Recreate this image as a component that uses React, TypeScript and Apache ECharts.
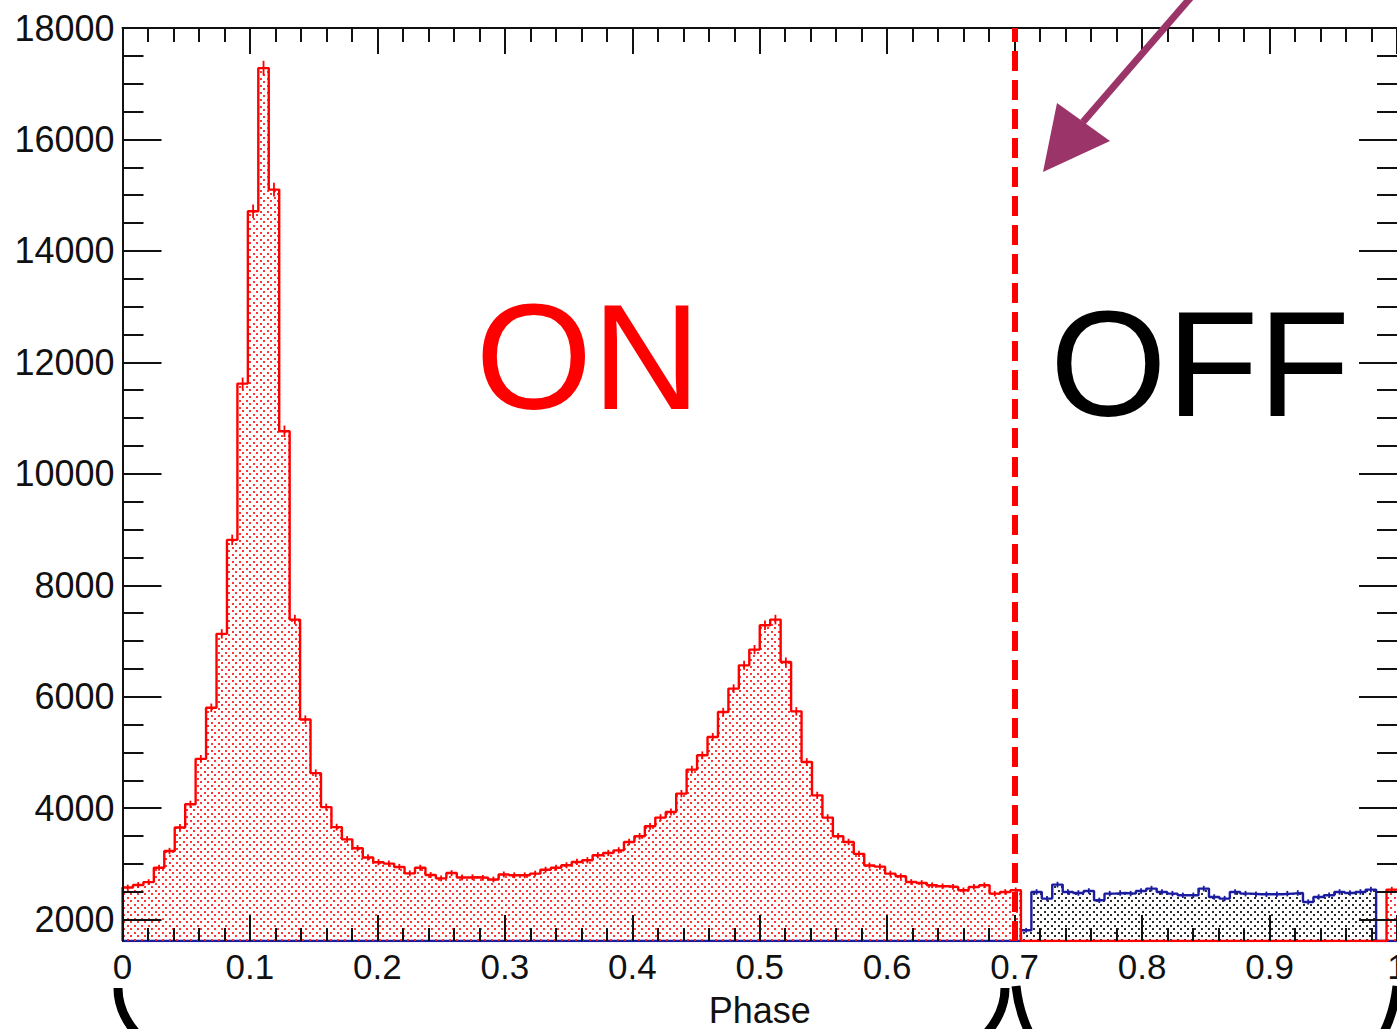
import React, { useEffect, useRef } from 'react';
import * as echarts from 'echarts';

// Pulse-phase histogram: one rotation split into equal phase bins.
const BIN_COUNT = 122;
const OFF_FIRST_BIN = 86;   // first bin of the off-pulse window
const WRAP_FIRST_BIN = 120; // bins after the off-pulse window
const ON_OFF_BOUNDARY = 0.705;
const Y_MIN = 1616;
const Y_MAX = 18000;

// Counts per bin, on-pulse window (bins 0..85)
const onPulseCounts = [
  2577, 2622, 2673, 2930, 3231, 3654, 4070, 4884, 5801, 7128,
  8814, 11619, 14711, 17280, 15100, 10763, 7384, 5590, 4628, 4019,
  3660, 3440, 3280, 3115, 3030, 3005, 2945, 2830, 2930, 2800,
  2740, 2835, 2755, 2760, 2750, 2720, 2810, 2795, 2795, 2825,
  2895, 2930, 2975, 3035, 3065, 3155, 3195, 3243, 3393, 3495,
  3675, 3830, 3931, 4261, 4692, 4948, 5277, 5725, 6145, 6563,
  6845, 7281, 7384, 6623, 5737, 4828, 4230, 3830, 3495, 3393,
  3180, 2970, 2950, 2825, 2777, 2675, 2657, 2616, 2598, 2586,
  2526, 2586, 2616, 2466, 2496, 2526,
];

// Counts per bin, off-pulse window (bins 86..119)
const offPulseCounts = [
  1808, 2496, 2377, 2628, 2496, 2478, 2513, 2346, 2466, 2478,
  2466, 2513, 2556, 2496, 2466, 2436, 2436, 2556, 2406, 2377,
  2496, 2466, 2454, 2454, 2454, 2466, 2478, 2316, 2406, 2436,
  2496, 2478, 2496, 2538,
];

// On-pulse counts wrapping round to phase 1 (bins 120..121)
const wrapOnCounts = [0, 2538];

// Labelled count ticks
const Y_TICK_FIRST = 2000;
const Y_TICK_STEP = 2000;
const Y_MINOR_SPLIT = 4;

const RED = '#ff0000';
const BLUE = '#1c1ca0';
const INK = '#111111';
const ARROW = '#9b3468';
const FONT = '"Liberation Sans", Arial, Helvetica, sans-serif';

const WIDTH = 1397;
const HEIGHT = 1029;
const PLOT = { left: 122.5, right: 0, top: 28, bottom: 88 };

function fullBins(): { on: number[]; off: number[] } {
  const on = new Array(BIN_COUNT).fill(0);
  const off = new Array(BIN_COUNT).fill(0);
  onPulseCounts.forEach((c, i) => (on[i] = c));
  wrapOnCounts.forEach((c, i) => (on[WRAP_FIRST_BIN + i] = c));
  offPulseCounts.forEach((c, i) => (off[OFF_FIRST_BIN + i] = c));
  return { on, off };
}

// Step outline points at the left edge of each bin; empty bins sit on the frame.
function stepPoints(bins: number[]): number[][] {
  const w = 1 / BIN_COUNT;
  const pts: number[][] = [[0, Y_MIN]];
  bins.forEach((c, k) => pts.push([k * w, Math.max(c, Y_MIN)]));
  pts.push([1, Math.max(bins[bins.length - 1], Y_MIN)]);
  return pts;
}

function errorPoints(bins: number[]): number[][] {
  const out: number[][] = [];
  bins.forEach((c, k) => {
    if (c > 0) out.push([(k + 0.5) / BIN_COUNT, c]);
  });
  return out;
}

function dotPattern(color: string) {
  const size = 7;
  const c = document.createElement('canvas');
  c.width = size;
  c.height = size;
  const g = c.getContext('2d')!;
  g.fillStyle = color;
  g.fillRect(1, 1, 2, 2);
  g.fillRect(4, 4, 2, 2);
  return { image: c.toDataURL(), repeat: 'repeat', imageWidth: size, imageHeight: size } as any;
}

function histogramSeries(name: string, bins: number[], color: string, fillDots: string, z: number) {
  return [
    {
      name,
      type: 'line',
      xAxisIndex: 0,
      yAxisIndex: 0,
      step: 'end',
      symbol: 'none',
      silent: true,
      z,
      data: stepPoints(bins),
      lineStyle: { color, width: 2.4 },
      areaStyle: { origin: 'start', color: dotPattern(fillDots), opacity: 1 },
    },
    {
      name: name + ' errors',
      type: 'custom',
      xAxisIndex: 0,
      yAxisIndex: 0,
      silent: true,
      z: z + 0.5,
      data: errorPoints(bins),
      renderItem: (_params: any, api: any) => {
        const x = api.value(0);
        const c = api.value(1);
        const e = Math.sqrt(c);
        const p1 = api.coord([x, c - e]);
        const p2 = api.coord([x, c + e]);
        return {
          type: 'line',
          shape: { x1: p1[0], y1: p1[1], x2: p2[0], y2: p2[1] },
          style: { stroke: color, lineWidth: 1.8 },
        };
      },
    },
  ];
}

export default function App() {
  const ref = useRef<HTMLDivElement>(null);

  useEffect(() => {
    if (!ref.current) return;
    const chart = echarts.init(ref.current, null, { renderer: 'svg' });
    const { on, off } = fullBins();

    // The labelled count scale starts at the first tick, so it lives in a
    // second grid whose bottom edge sits where that tick falls on the frame.
    const plotHeight = HEIGHT - PLOT.top - PLOT.bottom;
    const firstTickY = PLOT.top + ((Y_MAX - Y_TICK_FIRST) / (Y_MAX - Y_MIN)) * plotHeight;
    const tickGrid = { ...PLOT, bottom: HEIGHT - firstTickY };

    const tickLine = { color: INK, width: 2 };
    const xFormatter = (v: number) => String(Math.round(v * 10) / 10);

    const option: any = {
      animation: false,
      backgroundColor: '#ffffff',
      textStyle: { fontFamily: FONT },
      grid: [
        { ...PLOT, containLabel: false, outerBoundsMode: 'none' },
        { ...tickGrid, containLabel: false, outerBoundsMode: 'none' },
      ],
      xAxis: [
        {
          type: 'value',
          gridIndex: 0,
          position: 'bottom',
          min: 0,
          max: 1,
          interval: 0.1,
          z: 10,
          axisLine: { show: false },
          axisTick: { show: true, inside: true, length: 26, lineStyle: tickLine },
          minorTick: { show: true, splitNumber: 5, length: 13, lineStyle: tickLine },
          axisLabel: { fontSize: 35, color: INK, margin: 8, fontFamily: FONT, formatter: xFormatter },
          splitLine: { show: false },
          name: 'Phase',
          nameLocation: 'middle',
          nameGap: 51,
          nameTextStyle: { fontSize: 36, color: INK, fontFamily: FONT },
        },
        {
          type: 'value',
          gridIndex: 0,
          position: 'top',
          min: 0,
          max: 1,
          interval: 0.1,
          z: 10,
          axisLine: { show: true, lineStyle: tickLine },
          axisTick: { show: true, inside: true, length: 26, lineStyle: tickLine },
          minorTick: { show: true, splitNumber: 5, length: 14, lineStyle: tickLine },
          axisLabel: { show: false },
          splitLine: { show: false },
        },
        {
          type: 'value',
          gridIndex: 1,
          min: 0,
          max: 1,
          show: false,
          splitLine: { show: false },
        },
      ],
      yAxis: [
        {
          type: 'value',
          gridIndex: 0,
          position: 'left',
          min: Y_MIN,
          max: Y_MAX,
          z: 10,
          axisLine: { show: true, lineStyle: tickLine },
          axisTick: { show: false },
          axisLabel: { show: false },
          splitLine: { show: false },
        },
        {
          type: 'value',
          gridIndex: 0,
          position: 'right',
          min: Y_MIN,
          max: Y_MAX,
          z: 10,
          axisLine: { show: true, lineStyle: tickLine },
          axisTick: { show: false },
          axisLabel: { show: false },
          splitLine: { show: false },
        },
        {
          type: 'value',
          gridIndex: 1,
          position: 'left',
          min: Y_TICK_FIRST,
          max: Y_MAX,
          interval: Y_TICK_STEP,
          z: 10,
          axisLine: { show: false },
          axisTick: { show: true, inside: true, length: 39, lineStyle: tickLine },
          minorTick: { show: true, splitNumber: Y_MINOR_SPLIT, length: 21, lineStyle: tickLine },
          axisLabel: {
            fontSize: 36,
            color: INK,
            margin: 8,
            fontFamily: FONT,
            formatter: (v: number) => String(v),
          },
          splitLine: { show: false },
        },
        {
          type: 'value',
          gridIndex: 1,
          position: 'right',
          min: Y_TICK_FIRST,
          max: Y_MAX,
          interval: Y_TICK_STEP,
          z: 10,
          axisLine: { show: false },
          axisTick: { show: true, inside: true, length: 38, lineStyle: tickLine },
          minorTick: { show: true, splitNumber: Y_MINOR_SPLIT, length: 20, lineStyle: tickLine },
          axisLabel: { show: false },
          splitLine: { show: false },
        },
      ],
      series: [
        ...histogramSeries('OFF', off, BLUE, 'rgba(20,20,20,0.9)', 2),
        ...histogramSeries('ON', on, RED, 'rgba(255,30,30,0.9)', 3),
        {
          name: 'boundary',
          type: 'line',
          xAxisIndex: 0,
          yAxisIndex: 0,
          data: [],
          silent: true,
          markLine: {
            silent: true,
            symbol: ['none', 'none'],
            label: { show: false },
            lineStyle: { color: RED, width: 6, type: [20, 9] },
            data: [{ xAxis: ON_OFF_BOUNDARY }],
            z: 20,
          },
        },
      ],
      graphic: [
        {
          type: 'text',
          z: 50,
          style: {
            text: 'ON',
            x: 588,
            y: 357,
            align: 'center',
            verticalAlign: 'middle',
            fontSize: 150,
            fontFamily: FONT,
            fill: RED,
          },
        },
        {
          type: 'text',
          z: 50,
          style: {
            text: 'OFF',
            x: 1200,
            y: 364,
            align: 'center',
            verticalAlign: 'middle',
            fontSize: 150,
            fontFamily: FONT,
            fill: '#000000',
          },
        },
        {
          type: 'line',
          z: 60,
          shape: { x1: 1192, y1: -4, x2: 1083, y2: 122 },
          style: { stroke: ARROW, lineWidth: 7 },
        },
        {
          type: 'polygon',
          z: 60,
          shape: { points: [[1043, 172], [1057, 103], [1110, 141]] },
          style: { fill: ARROW },
        },
        {
          type: 'bezierCurve',
          z: 60,
          shape: { x1: 118, y1: 988, cpx1: 118, cpy1: 1180, cpx2: 1005, cpy2: 1180, x2: 1005, y2: 988 },
          style: { stroke: '#000000', lineWidth: 9, fill: null },
        },
        {
          type: 'bezierCurve',
          z: 60,
          shape: { x1: 1016, y1: 986, cpx1: 1036, cpy1: 1170, cpx2: 1377, cpy2: 1170, x2: 1397, y2: 986 },
          style: { stroke: '#000000', lineWidth: 9, fill: null },
        },
      ],
    };

    chart.setOption(option);
    return () => chart.dispose();
  }, []);

  return (
    <div
      ref={ref}
      style={{ position: 'absolute', left: 0, top: 0, width: WIDTH, height: HEIGHT, background: '#fff' }}
    />
  );
}
